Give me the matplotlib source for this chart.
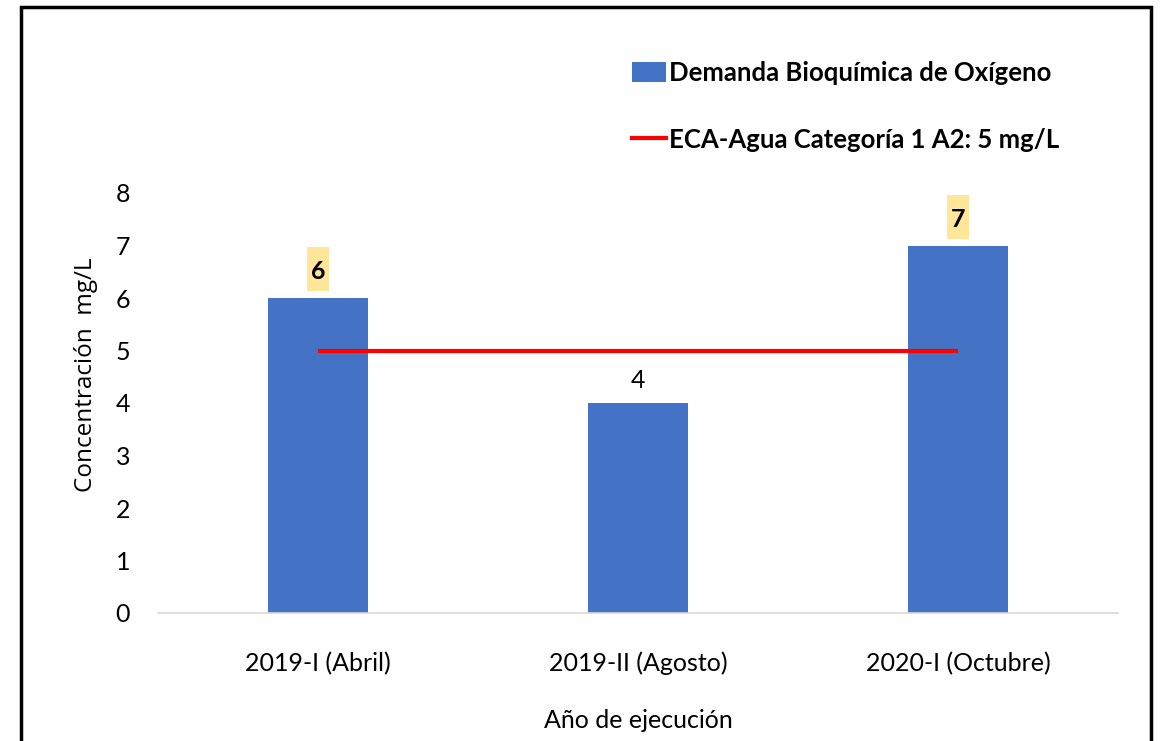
import matplotlib.pyplot as plt
from matplotlib.patches import Rectangle, Patch
from matplotlib.lines import Line2D

periodos = ["2019-I (Abril)", "2019-II (Agosto)", "2020-I (Octubre)"]
dbo = [6, 4, 7]
eca_limite = [5, 5, 5]
resaltar = [True, False, True]   # etiquetas que superan el ECA

fuente = ["Lato", "DejaVu Sans"]
azul = "#4472C4"
rojo = "#FF0000"

fig = plt.figure(figsize=(11.6, 7.41), dpi=100)
ax = fig.add_axes([158 / 1160, 1 - 613 / 741, 960 / 1160, 420 / 741])

x = list(range(len(periodos)))
ax.bar(x, dbo, width=0.3125, color=azul, zorder=2)
ax.plot(x, eca_limite, color=rojo, lw=3, solid_capstyle="butt", zorder=3)

# etiquetas de valor sobre las barras
for xi, v, hl in zip(x, dbo, resaltar):
    if hl:
        ax.add_patch(Rectangle((xi - 0.034, v + 0.13), 0.068, 0.84,
                               facecolor="#FFE699", edgecolor="none",
                               clip_on=False, zorder=3))
    ax.text(xi, v + (0.5 if hl else 0.42), str(v), ha="center", va="center",
            fontsize=18, family=fuente,
            fontweight="bold" if hl else "normal", zorder=4)

ax.set_xlim(-0.5, 2.5)
ax.set_ylim(0, 8)
ax.set_yticks(range(0, 9))
ax.set_xticks(x)
ax.set_xticklabels(periodos)
for lab in ax.get_xticklabels() + ax.get_yticklabels():
    lab.set_family(fuente)
    lab.set_fontsize(18)
ax.tick_params(length=0)
ax.tick_params(axis="x", pad=28)
ax.tick_params(axis="y", pad=20)

for s in ["top", "right", "left"]:
    ax.spines[s].set_visible(False)
ax.spines["bottom"].set_color("#D9D9D9")
ax.spines["bottom"].set_linewidth(1.2)

ax.set_xlabel("Año de ejecución", family=fuente, fontsize=18, labelpad=24)
ax.set_ylabel("Concentración  mg/L", family=["Open Sans", "DejaVu Sans"],
              fontsize=17.5)
ax.yaxis.set_label_coords(-0.063, 0.567)

handles = [Patch(facecolor=azul, edgecolor="none"),
           Line2D([0], [0], color=rojo, lw=3)]
labels = ["Demanda Bioquímica de Oxígeno", "ECA-Agua Categoría 1 A2: 5 mg/L"]
fig.legend(handles, labels, loc="upper left",
           bbox_to_anchor=(609 / 1160, 1 - 38 / 741),
           frameon=False, handlelength=1.3, handleheight=0.8,
           handletextpad=0.15, labelspacing=1.65,
           prop={"family": fuente, "size": 18.5, "weight": "bold"})

# marco exterior
fig.patches.append(Rectangle((21 / 1160, -0.05), 1130 / 1160, 1 - 7 / 741 + 0.05,
                             transform=fig.transFigure, fill=False,
                             edgecolor="black", lw=2.5))

fig.savefig("out.png", dpi=100)
